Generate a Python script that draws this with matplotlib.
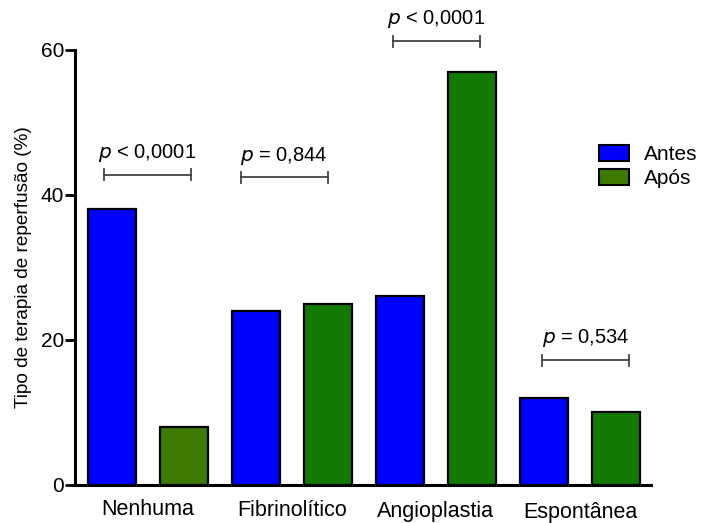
import matplotlib
matplotlib.use("Agg")
import matplotlib.pyplot as plt
from matplotlib.patches import Patch

plt.rcParams['font.family'] = ['Liberation Sans', 'DejaVu Sans']

# dados
categorias = ['Nenhuma', 'Fibrinolítico', 'Angioplastia', 'Espontânea']
antes = [38, 24, 26, 12]
apos = [8, 25, 57, 10]
p_textos = ['$p$ < 0,0001', '$p$ = 0,844', '$p$ < 0,0001', '$p$ = 0,534']
p_alturas = [42.8, 42.4, 61.2, 17.2]
p_inicio = [-0.11, 1.79, 3.90, 5.97]

azul = '#0000ff'
verde = '#127a02'
oliva = '#3f7a00'

fig = plt.figure(figsize=(7.01, 5.23), dpi=100)
ax = fig.add_axes([0.107, 0.0727, 0.822, 0.832])

pos_antes = [2 * i for i in range(len(categorias))]
pos_apos = [2 * i + 1 for i in range(len(categorias))]
cores_apos = [oliva] + [verde] * (len(categorias) - 1)

ax.bar(pos_antes, antes, width=0.667, color=azul, edgecolor='black', linewidth=1.6, zorder=3)
ax.bar(pos_apos, apos, width=0.667, color=cores_apos, edgecolor='black', linewidth=1.6, zorder=3)

# colchetes com valor de p
for txt, h, x0 in zip(p_textos, p_alturas, p_inicio):
    x1 = x0 + 1.21
    ax.plot([x0, x1], [h, h], color='#444444', lw=1.3, clip_on=False)
    for xx in (x0, x1):
        ax.plot([xx, xx], [h - 0.75, h + 0.75], color='#444444', lw=1.3, clip_on=False)
    ax.text((x0 + x1) / 2, h + 1.5, txt, ha='center', va='bottom', fontsize=14.5, clip_on=False)

ax.set_xlim(-0.51, 7.49)
ax.set_ylim(0, 60)
ax.set_yticks([0, 20, 40, 60])
ax.tick_params(axis='y', labelsize=15, width=2, length=7, pad=1)
ax.set_xticks([])

# rótulos das categorias levemente escalonados
offsets = [0, 0.1, 0.2, 0.3]
for i, (cat, off) in enumerate(zip(categorias, offsets)):
    ax.text(2 * i + 0.5, -2.0 - off, cat, ha='center', va='top', fontsize=15.5)

for s in ['top', 'right']:
    ax.spines[s].set_visible(False)
ax.spines['left'].set_linewidth(2.2)
ax.spines['bottom'].set_linewidth(2.2)

ax.set_ylabel('Tipo de terapia de reperfusão (%)', fontsize=13.7, labelpad=6)

handles = [Patch(facecolor=azul, edgecolor='black', linewidth=1.5, label='Antes'),
           Patch(facecolor=oliva, edgecolor='black', linewidth=1.5, label='Após')]
ax.legend(handles=handles, loc='upper left', bbox_to_anchor=(0.895, 0.80), frameon=False,
          fontsize=15, handlelength=1.45, handleheight=0.8, labelspacing=0.2,
          handletextpad=0.7, borderaxespad=0)

fig.savefig('out.png', dpi=100)
